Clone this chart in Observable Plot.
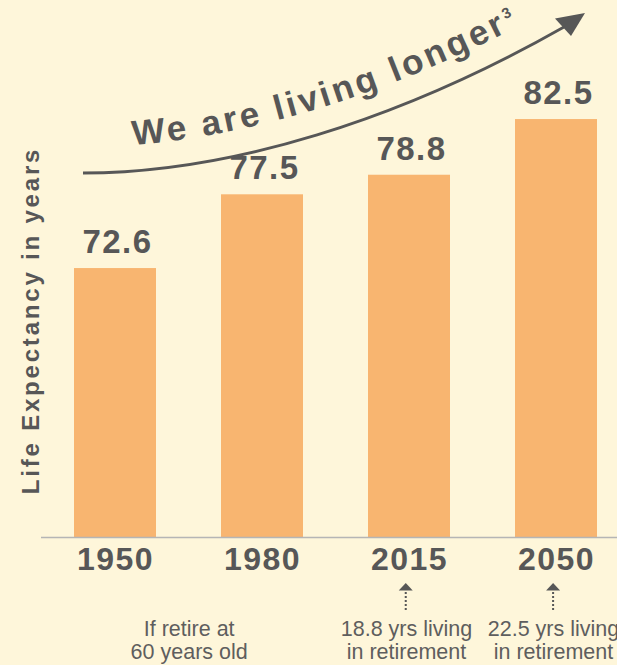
<!DOCTYPE html>
<html>
<head>
<meta charset="utf-8">
<script src="https://cdn.jsdelivr.net/npm/d3@7"></script>
<script src="https://cdn.jsdelivr.net/npm/@observablehq/plot@0.6"></script>
<style>
  html, body { margin: 0; padding: 0; background: #fef6da; }
  svg { display: block; }
  g[aria-description="value labels"] text { letter-spacing: 1.5px; }
  g[aria-label="x-axis tick label"] text { letter-spacing: 1.5px; }
  g[aria-description="y title"] text { letter-spacing: 2.8px; }
</style>
</head>
<body>
<div id="chart"></div>
<script>
// ---- data ----
const years = ["1950", "1980", "2015", "2050"];
const lifeExpectancy = [72.6, 77.5, 78.8, 82.5];
const retireNoteYear = ["1950"];
const retireNoteText = ["If retire at\n60 years old"];
const livingNoteYears = ["2015", "2050"];
const livingNoteTexts = ["18.8 yrs living\nin retirement", "22.5 yrs living\nin retirement"];
const yTitle = "Life Expectancy in years";
const headline = "We are living longer";

const data = years.map((year, i) => ({year, value: lifeExpectancy[i]}));
const retireNote = retireNoteYear.map((year, i) => ({year, text: retireNoteText[i]}));
const livingNotes = livingNoteYears.map((year, i) => ({year, text: livingNoteTexts[i]}));

const yBase = 54.73;
const yTop = 90.41;
const W = 617, H = 665;
const mLeft = 41, mRight = 0;
const pIn = 0.443, pOut = 0.176, pAlign = 0.617;
const grey = "#575757";
const font = "'Liberation Sans', Arial, Helvetica, sans-serif";

// same band layout as the plot's x scale, to place the in-between note
const band = d3.scaleBand().domain(years).range([mLeft, W - mRight])
  .paddingInner(pIn).paddingOuter(pOut).align(pAlign);

const chart = Plot.plot({
  width: W,
  height: H,
  marginTop: 0,
  marginLeft: mLeft,
  marginRight: mRight,
  marginBottom: 128,
  style: {background: "transparent", fontFamily: font, overflow: "visible"},
  x: {domain: years, paddingInner: pIn, paddingOuter: pOut, align: pAlign, axis: null},
  y: {domain: [yBase, yTop], axis: null},
  marks: [
    Plot.barY(data, {x: "year", y1: yBase, y2: "value", fill: "#f8b570"}),
    Plot.ruleY([yBase], {stroke: "#b5b5b5", strokeWidth: 1.5}),
    Plot.axisX({tickSize: 0, tickPadding: 10, label: null, fontSize: 32, fontWeight: "bold", fill: grey}),
    Plot.text(data, {
      x: "year", y: "value", text: d => d.value.toFixed(1),
      dy: -26, dx: 2, fontSize: 33, fontWeight: "bold", fill: grey, ariaDescription: "value labels"
    }),
    Plot.text(retireNote, {
      x: "year", text: "text", frameAnchor: "bottom", lineAnchor: "top",
      dx: band.step() / 2, dy: 82, fontSize: 21.5, lineHeight: 1.07, fill: "#5e5e5e"
    }),
    Plot.text(livingNotes, {
      x: "year", text: "text", frameAnchor: "bottom", lineAnchor: "top",
      dx: -3, dy: 82, fontSize: 21.5, lineHeight: 1.07, fill: "#5e5e5e"
    }),
    Plot.text([yTitle], {
      frameAnchor: "left", textAnchor: "middle", rotate: -90, dx: -10, dy: 51.5,
      fontSize: 24, fontWeight: "bold", fill: grey, ariaDescription: "y title"
    })
  ]
});

document.getElementById("chart").appendChild(chart);

const cx = y => band(y) + band.bandwidth() / 2;
const svg = d3.select(chart);

// curved "We are living longer" arrow
const defs = svg.append("defs");
defs.append("path").attr("id", "textCurve")
  .attr("d", "M83,147 C230,147 400,94 563,2");
svg.append("path")
  .attr("d", "M83,173 C230,173 400,120 564,27")
  .attr("fill", "none").attr("stroke", grey).attr("stroke-width", 2.8);
svg.append("path")
  .attr("d", "M585,13 L555,18.5 L571,36 Z")
  .attr("fill", grey);
const tp = svg.append("text")
  .attr("text-anchor", "start")
  .attr("font-family", font).attr("font-weight", "bold").attr("font-size", 35)
  .attr("fill", grey).style("letter-spacing", "3.2px")
  .append("textPath").attr("href", "#textCurve").attr("startOffset", 50);
tp.append("tspan").text(headline);
tp.append("tspan").attr("font-size", 15).attr("dy", -12).attr("dx", 1).style("letter-spacing", "0px").text("3");

// small dotted arrows under 2015 and 2050
livingNoteYears.forEach(y => {
  const x = cx(y) - 3;
  svg.append("path")
    .attr("d", `M${x},583 L${x - 7},590.5 L${x + 7},590.5 Z`)
    .attr("fill", grey);
  svg.append("line")
    .attr("x1", x).attr("x2", x).attr("y1", 592).attr("y2", 611)
    .attr("stroke", grey).attr("stroke-width", 2).attr("stroke-dasharray", "2,2");
});
</script>
</body>
</html>
